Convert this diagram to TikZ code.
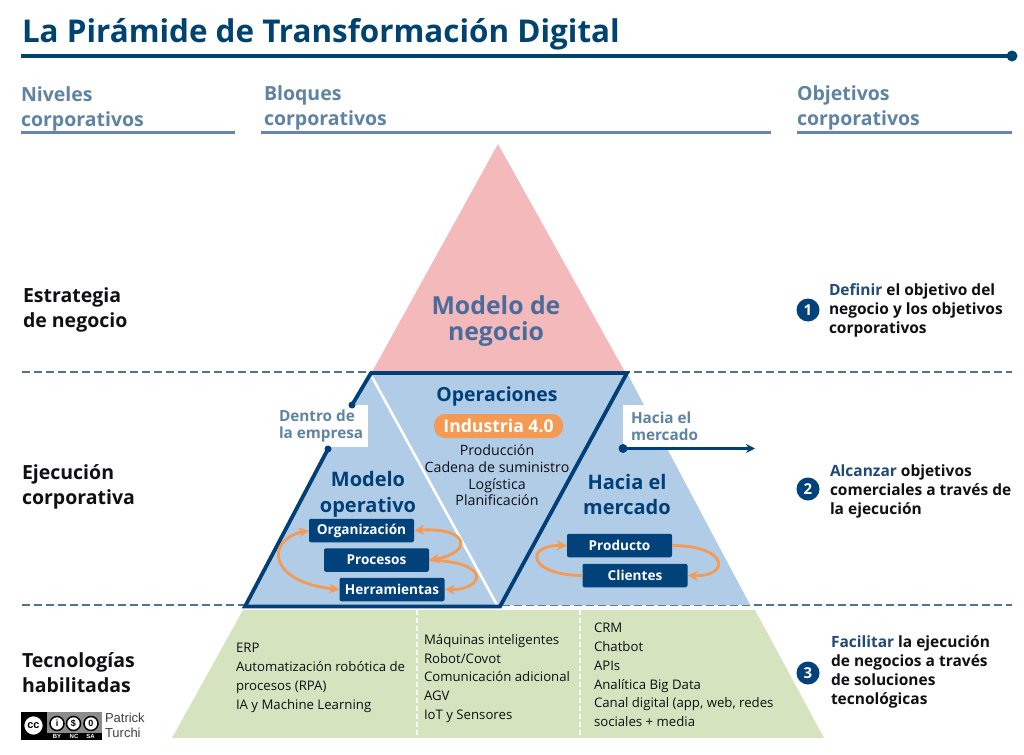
\documentclass[tikz,border=0pt]{standalone}
\usepackage{fontspec}
\setmainfont{Open Sans}
\newfontfamily\arialf{Liberation Sans}
\usetikzlibrary{arrows.meta}
\definecolor{navy}{HTML}{00436F}
\definecolor{boxnavy}{HTML}{004279}
\definecolor{outl}{HTML}{003F78}
\definecolor{slate}{HTML}{5F84A3}
\definecolor{rulec}{HTML}{6685AD}
\definecolor{dashc}{HTML}{4D7590}
\definecolor{redf}{HTML}{F4B9BB}
\definecolor{bluef}{HTML}{B1CCE6}
\definecolor{greenf}{HTML}{D5E3BF}
\definecolor{orangec}{HTML}{F59A53}
\definecolor{modelc}{HTML}{4A6C9C}
\definecolor{inkc}{HTML}{0F0F14}
\definecolor{lead}{HTML}{1F4A78}
\tikzset{
 txt/.style={inner sep=0pt,outer sep=0pt,align=left,anchor=west,text=#1},
 txt/.default=black,
 head/.style={txt=slate,font=\fontsize{19.5}{25}\selectfont\bfseries},
 lvl/.style={txt=inkc,font=\fontsize{19.5}{25}\selectfont\bfseries},
 goal/.style={txt=inkc,font=\fontsize{15.5}{19}\selectfont\bfseries},
 side/.style={txt=slate,font=\fontsize{15.3}{17}\selectfont\bfseries},
 small/.style={txt=inkc,font=\fontsize{13.2}{18.8}\selectfont},
 big/.style={inner sep=0pt,align=center,text=#1,font=\fontsize{20}{25.6}\selectfont\bfseries},
 listc/.style={inner sep=0pt,align=center,text=inkc,font=\fontsize{14.2}{16.7}\selectfont},
 bx/.style={fill=boxnavy,rounded corners=2pt,minimum width=105pt,minimum height=23.5pt,inner sep=0pt,text=white,font=\fontsize{13.6}{15}\selectfont\bfseries},
 numc/.style={circle,fill=boxnavy,minimum size=23pt,inner sep=0pt,text=white,font=\fontsize{15}{15}\selectfont\bfseries},
 cyc/.style={draw=orangec,line width=2.8pt,-{Stealth[length=10pt,width=10pt]}},
 cycb/.style={draw=orangec,line width=2.8pt,{Stealth[length=10pt,width=10pt]}-{Stealth[length=10pt,width=10pt]}},
 dashl/.style={draw=dashc,line width=1.3pt,dash pattern=on 8pt off 4pt},
 sep/.style={draw=white,line width=1.2pt,dash pattern=on 5pt off 3pt},
 ccw/.style={circle,draw=black,fill=white,line width=1.5pt,inner sep=0pt,text=black,font=\arialf\bfseries},
 ccs/.style={inner sep=0pt,text=white,font=\fontsize{6}{6}\arialf\bfseries},
}
\begin{document}
\begin{tikzpicture}[x=1pt,y=-1pt]
\useasboundingbox (0,0) rectangle (1024,754);
% pyramid
\fill[greenf] (243,610) -- (755,610) -- (824,738) -- (172,738) -- cycle;
\fill[bluef] (372,372) -- (624,372) -- (750,605) -- (245,605) -- cycle;
\fill[redf] (498,144) -- (625,372) -- (372,372) -- cycle;
\coordinate (sa1) at (417,610); \coordinate (sa2) at (417,738);
\coordinate (sb1) at (580,610); \coordinate (sb2) at (580,738);
\draw[sep] (sa1) -- (sa2);
\draw[sep] (sb1) -- (sb2);
% title
\node[txt=navy,font=\fontsize{31.4}{32}\selectfont\bfseries] (title) at (22,34.5) {La Pirámide de Transformación Digital};
\coordinate (tl) at (21,56);
\node[circle,fill=navy,minimum size=11pt,inner sep=0pt] (tdot) at (1012,56) {};
\draw[navy,line width=3.8pt] (tl) -- (tdot.center);
% headings
\node[head] (h1) at (21,108.5) {Niveles\\corporativos};
\node[head] (h2) at (264,107.5) {Bloques\\corporativos};
\node[head] (h3) at (797,107.5) {Objetivos\\corporativos};
\coordinate (r1a) at (21,133); \coordinate (r1b) at (235,133);
\coordinate (r2a) at (261,133); \coordinate (r2b) at (771,133);
\coordinate (r3a) at (797,133); \coordinate (r3b) at (1012,133);
\draw[rulec,line width=3pt] (r1a) -- (r1b);
\draw[rulec,line width=3pt] (r2a) -- (r2b);
\draw[rulec,line width=3pt] (r3a) -- (r3b);
% dashed levels
\coordinate (d1a) at (22,372); \coordinate (d1b) at (1012,372);
\coordinate (d2a) at (22,605); \coordinate (d2b) at (1012,605);
\draw[dashl] (d1a) -- (d1b);
\draw[dashl] (d2a) -- (d2b);
% refill over dashes
\fill[bluef] (372,373) -- (627,373) -- (750,605) -- (245,605) -- cycle;
\fill[white] (623,405) rectangle (702,447);
\fill[white] (270,405) rectangle (368,447);
\coordinate (wa) at (372,377); \coordinate (wb) at (497,605);
\draw[white,line width=2.6pt] (wa) -- (wb);
% parallelogram outline
\coordinate (pa) at (352,405);
\coordinate (pb) at (371,373);
\coordinate (pc) at (627,373);
\coordinate (pd) at (500,606.5);
\coordinate (pe) at (245,606.5);
\coordinate (pf) at (328,449);
\draw[outl,line width=3.8pt,line join=miter] (pa) -- (pb) -- (pc) -- (pd) -- (pe) -- (pf);
\fill[outl] (pa) circle (3.5pt);
\fill[outl] (pf) circle (3.5pt);
% right marker
\coordinate (ma) at (623,448.5); \coordinate (mb) at (755,448.5);
\fill[outl] (ma) circle (4.5pt);
\draw[outl,line width=2.2pt,-{Stealth[length=9pt,width=9pt]}] (ma) -- (mb);
% labels in pyramid
\node[big=modelc,font=\fontsize{24.8}{26}\selectfont\bfseries] (mn) at (496,321) {Modelo de\\negocio};
\node[big=outl,font=\fontsize{19.4}{25}\selectfont\bfseries] (op) at (497,396) {Operaciones};
\node[fill=orangec,rounded corners=11pt,minimum width=129pt,minimum height=24pt,inner sep=0pt,text=white,font=\fontsize{17.6}{18}\selectfont\bfseries] (ind) at (498.5,426) {Industria 4.0};
\node[listc] (ol) at (497,475.5) {Producción\\Cadena de suministro\\Logística\\Planificación};
\node[big=outl] (mo) at (368,494) {Modelo\\operativo};
\node[big=outl] (hm) at (627,494.5) {Hacia el\\mercado};
\node[side] (dm) at (279,426) {Dentro de\\la empresa};
\node[side] (hs) at (631,426) {Hacia el\\mercado};
% boxes
\node[bx] (b1) at (361.5,530.5) {Organización};
\node[bx] (b2) at (376.5,560) {Procesos};
\node[bx] (b3) at (392,589.5) {Herramientas};
\node[bx] (b4) at (619.5,545.5) {Producto};
\node[bx] (b5) at (635,575.5) {Clientes};
\draw[cycb] (b1.west) .. controls (265,540) and (268,582) .. (b3.west);
\draw[cycb] (b2.east) .. controls (473,553) and (470,527) .. (b1.east);
\draw[cyc] (b2.east) .. controls (494,562) and (483,590) .. (b3.east);
\draw[cyc] (b5.west) .. controls (528,575) and (524,545) .. (b4.west);
\draw[cyc] (b4.east) .. controls (730,546) and (730,577) .. (b5.east);
% left labels
\node[lvl] (l1) at (23,309.5) {Estrategia\\de negocio};
\node[lvl] (l2) at (22,486.5) {Ejecución\\corporativa};
\node[lvl] (l3) at (22,672.5) {Tecnologías\\habilitadas};
% goals
\node[numc] (n1) at (808,310) {1};
\node[numc] (n2) at (808,489) {2};
\node[numc] (n3) at (808,673) {3};
\node[goal] (g1) at (829,310) {{\color{lead}Definir} el objetivo del\\negocio y los objetivos\\corporativos};
\node[goal] (g2) at (830,491) {{\color{lead}Alcanzar} objetivos\\comerciales a través de\\la ejecución};
\node[goal] (g3) at (831,671.5) {{\color{lead}Facilitar} la ejecución\\de negocios a través\\de soluciones\\tecnológicas};
% lists
\node[small] (t1) at (236,678) {ERP\\Automatización robótica de\\procesos (RPA)\\IA y Machine Learning};
\node[small] (t2) at (424,678.5) {Máquinas inteligentes\\Robot/Covot\\Comunicación adicional\\AGV\\IoT y Sensores};
\node[small] (t3) at (594,675) {CRM\\Chatbot\\APIs\\Analítica Big Data\\Canal digital (app, web, redes\\sociales + media};
% licence badge
\fill[black!45] (21,712) rectangle (102,740);
\fill[black] (21,733) rectangle (102,740);
\fill[black] (21,712) rectangle (47,740);
\node[ccw,minimum size=20pt,font=\fontsize{11}{11}\arialf\bfseries] (cc) at (33.5,725.5) {cc};
\node[ccw,minimum size=14pt,font=\fontsize{9}{9}\arialf\bfseries] (c1) at (57,723.5) {i};
\node[ccw,minimum size=14pt,font=\fontsize{9}{9}\arialf\bfseries] (c2) at (73.5,723.5) {\$};
\node[ccw,minimum size=14pt,font=\fontsize{9}{9}\arialf\bfseries] (c3) at (91,723.5) {0};
\node[ccs] (c4) at (57,736.5) {BY};
\node[ccs] (c5) at (74,736.5) {NC};
\node[ccs] (c6) at (90.5,736.5) {SA};
\node[txt=black!75,font=\fontsize{13}{15}\arialf] (pt) at (105,725.5) {Patrick\\Turchi};
\end{tikzpicture}
\end{document}
